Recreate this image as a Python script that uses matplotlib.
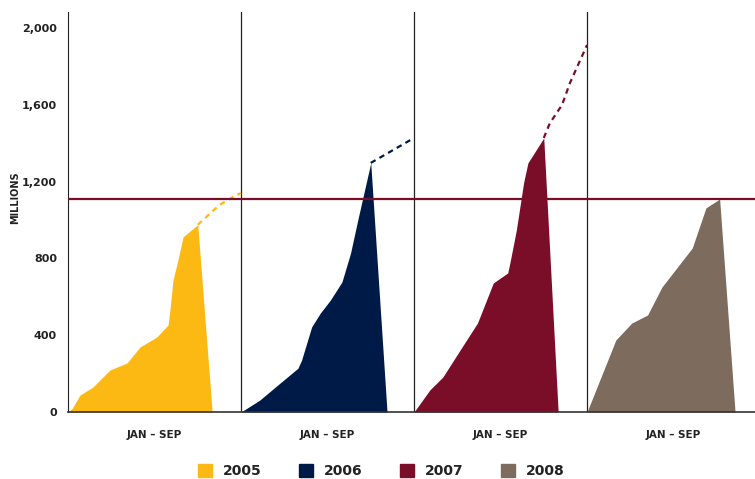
import numpy as np
import matplotlib
matplotlib.use("agg")
import matplotlib.pyplot as plt
from matplotlib.patches import Patch

matplotlib.rcParams.update({"font.family": "DejaVu Sans", "font.weight": "bold"})

# Cumulative values (millions) by month within each year, Jan - Sep
years = ["2005", "2006", "2007", "2008"]
colors = ["#FDB913", "#001A47", "#7A0E28", "#7D6B5D"]

m05 = [0, 0.3, 0.83, 1.73, 2.91, 4.09, 5.0, 6.17, 6.94, 7.07, 7.28, 7.63, 7.98, 9.0]
v05 = [0, 20, 88, 130, 219, 255, 339, 391, 453, 531, 687, 792, 912, 975]
m06 = [0, 1.3, 2.7, 3.95, 4.2, 4.9, 5.5, 6.2, 7.0, 7.6, 8.1, 9.0]
v06 = [0, 62, 150, 228, 270, 443, 515, 583, 677, 828, 1000, 1297]
m07 = [0, 1.1, 2.0, 3.2, 4.4, 5.5, 6.5, 6.65, 7.1, 7.6, 7.9, 9.0]
v07 = [0, 115, 182, 323, 463, 672, 724, 776, 948, 1193, 1297, 1427]
m08 = [0, 2.0, 3.1, 4.2, 5.2, 7.3, 8.25, 9.2]
v08 = [0, 375, 463, 505, 651, 854, 1063, 1109]

# where the filled area falls back to zero
drop_month = [10.0, 10.13, 10.0, 10.27]

# full-year continuation (dashed)
dm05 = [9.0, 9.6, 10.5, 11.45, 12.0]
dv05 = [975, 1016, 1078, 1120, 1140]
dm06 = [9.0, 12.0]
dv06 = [1297, 1427]
dm07 = [9.0, 9.43, 10.27, 10.82, 12.0]
dv07 = [1427, 1505, 1599, 1714, 1911]

ref_level = 1110

months = [m05, m06, m07, m08]
values = [v05, v06, v07, v08]
dashed = [(dm05, dv05), (dm06, dv06), (dm07, dv07), None]

fig = plt.figure(figsize=(7.55, 4.79), dpi=100)
ax = fig.add_axes([68/755, 1-412/479, 692/755, 400/479])

for i in range(4):
    off = 12*i
    x = np.array(months[i] + [drop_month[i]]) + off
    y = np.array(values[i] + [0])
    ax.fill_between(x, y, 0, color=colors[i], lw=0, zorder=2)
    if dashed[i] is not None:
        ax.plot(np.array(dashed[i][0]) + off, dashed[i][1], color=colors[i],
                lw=1.6, dashes=(2.5, 2), zorder=3)

for k in range(1, 4):
    ax.axvline(12*k, color="#222222", lw=0.9, zorder=1)
ax.axhline(ref_level, color="#7A0E28", lw=1.6, zorder=4)

ax.set_xlim(0, 48)
ax.set_ylim(0, 2083)
ax.set_yticks([0, 400, 800, 1200, 1600, 2000])
ax.set_yticklabels(["0", "400", "800", "1,200", "1,600", "2,000"])
ax.set_xticks([6, 18, 30, 42])
ax.set_xticklabels(["JAN – SEP"]*4)
ax.tick_params(axis="y", length=0, pad=8, labelsize=8, colors="#222222")
ax.tick_params(axis="x", length=0, pad=13, labelsize=7.5, colors="#222222")
for s in ["top", "right"]:
    ax.spines[s].set_visible(False)
ax.spines["left"].set_color("#222222")
ax.spines["bottom"].set_color("#333333")
ax.spines["bottom"].set_linewidth(1.2)

fig.text(15/755, 1-198/479, "MILLIONS", rotation=90, ha="center", va="center",
         fontsize=7, color="#222222")

handles = [Patch(color=c) for c in colors]
fig.legend(handles, years, loc="center", bbox_to_anchor=(0.505, 0.016), ncol=4,
           frameon=False, fontsize=10, handlelength=1.0, handleheight=1.0,
           handletextpad=0.8, columnspacing=2.7, labelcolor="#222222")

fig.savefig("out.png", dpi=100)
